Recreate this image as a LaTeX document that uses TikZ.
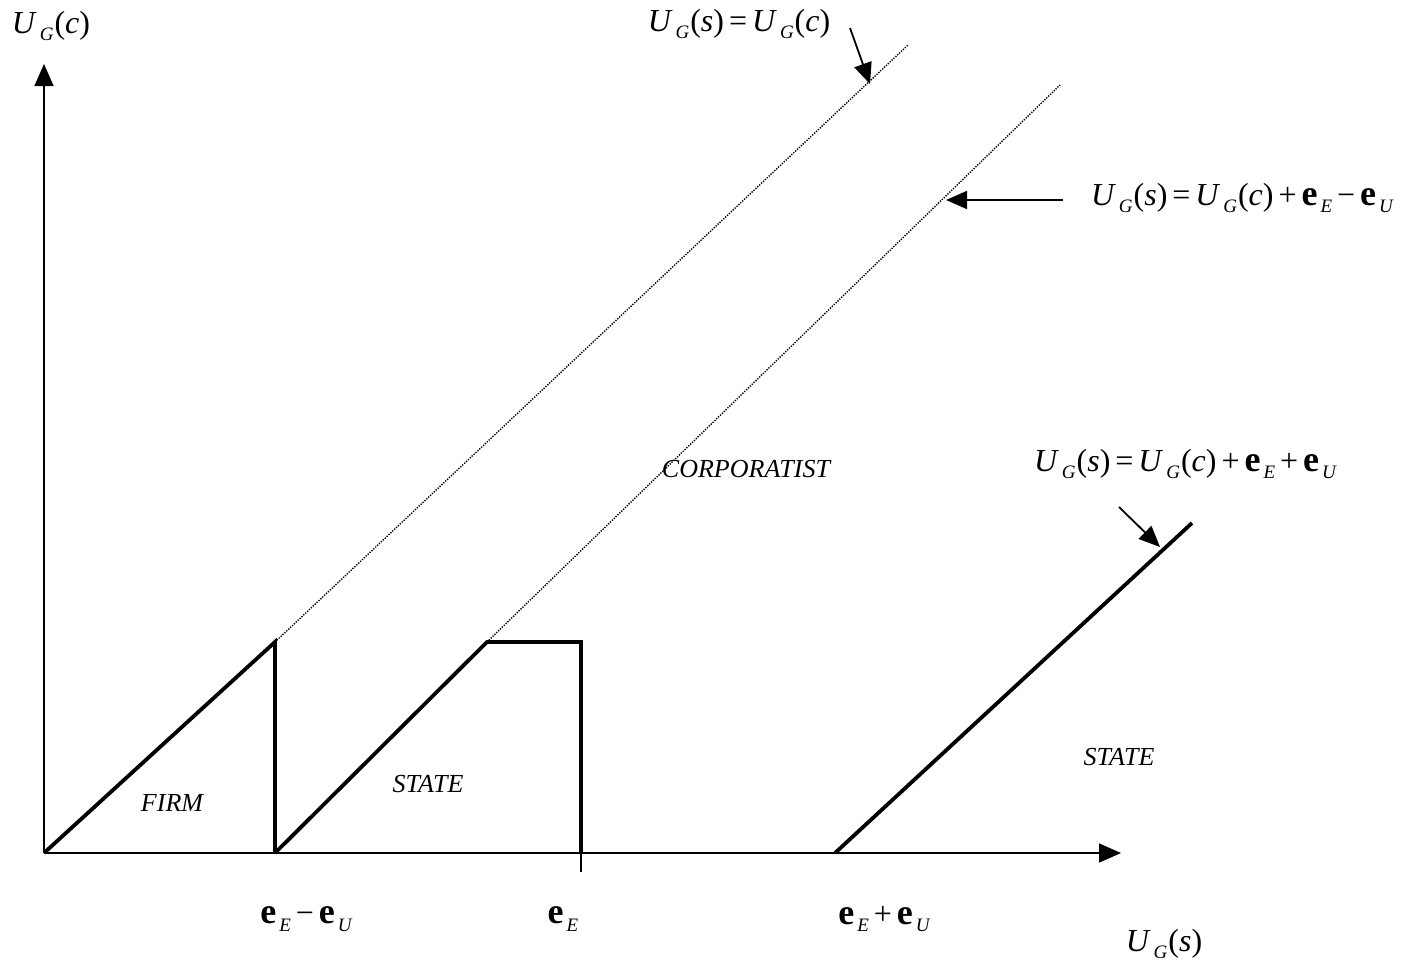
\documentclass[tikz,border=0pt]{standalone}
\usepackage{fontspec}
\setmainfont{Liberation Serif}
\usetikzlibrary{arrows.meta}
\newcommand{\mysub}[1]{\raisebox{-0.5ex}{\fontsize{19}{21}\selectfont\itshape #1}}
\newcommand{\UG}[1]{\textit{U}\hspace{3pt}\mysub{G}\hspace{1pt}(\textit{#1})}
\newcommand{\be}[1]{{\fontsize{36}{40}\selectfont\textbf{e}}\hspace{3pt}\mysub{#1}}
\newcommand{\gapsp}{\hspace{5pt}}
\tikzset{
  axisline/.style={draw=black, line width=1.5pt, -{Triangle[length=22pt,width=19pt]}},
  region/.style={line width=3.8pt, line join=miter, line cap=butt},
  guide/.style={line width=1.4pt, dash pattern=on 1.3pt off 1.3pt},
  pointer/.style={line width=1.8pt, -{Triangle[length=21pt,width=18pt]}},
  biglabel/.style={inner sep=0pt, font=\fontsize{32}{36}\selectfont},
  zonelabel/.style={inner sep=0pt, font=\fontsize{26}{30}\selectfont\itshape},
}
\begin{document}
\begin{tikzpicture}[x=1pt,y=-1pt]
\useasboundingbox (0,0) rectangle (1424,967);
% key points
\coordinate (O) at (44,853);
\coordinate (ytip) at (44,64);
\coordinate (xtip) at (1121,853);
\coordinate (f1) at (275,642);
\coordinate (f0) at (275,853);
\coordinate (s1) at (487,642);
\coordinate (s2) at (581,642);
\coordinate (s3) at (581,853);
\coordinate (s4) at (581,872);
\coordinate (d1) at (908,45);
\coordinate (d2) at (1060,85);
\coordinate (t0) at (835,853);
\coordinate (t1) at (1192,523);
% axes
\draw[axisline] (O) -- (ytip);
\draw[axisline] (O) -- (xtip);
% regions
\draw[region] (O) -- (f1) -- (f0);
\draw[region] (f0) -- (s1) -- (s2) -- (s3);
\draw[line width=1.5pt] (s3) -- (s4);
\draw[region] (t0) -- (t1);
% dotted guides
\draw[guide] (f1) -- (d1);
\draw[guide] (s1) -- (d2);
% labels
\node[biglabel] (ly) at (51,26) {\UG{c}};
\node[biglabel] (lx) at (1164,944) {\UG{s}};
\node[biglabel] (l1) at (739,24) {\UG{s}\gapsp=\gapsp\UG{c}};
\node[biglabel] (l2) at (1242,198) {\UG{s}\gapsp=\gapsp\UG{c}\gapsp+\gapsp\be{E}\gapsp−\gapsp\be{U}};
\node[biglabel] (l3) at (1185,464) {\UG{s}\gapsp=\gapsp\UG{c}\gapsp+\gapsp\be{E}\gapsp+\gapsp\be{U}};
\node[biglabel] (b1) at (306,919) {\be{E}\gapsp−\gapsp\be{U}};
\node[biglabel] (b2) at (563,919) {\be{E}};
\node[biglabel] (b3) at (884,919) {\be{E}\gapsp+\gapsp\be{U}};
\node[zonelabel] (zfirm) at (172,803) {FIRM};
\node[zonelabel] (zstate1) at (428,784) {STATE};
\node[zonelabel] (zcorp) at (746,469) {CORPORATIST};
\node[zonelabel] (zstate2) at (1119,757) {STATE};
% pointers
\coordinate (p1a) at (850,28);
\coordinate (p1b) at (870,84);
\coordinate (p2a) at (1063,200);
\coordinate (p2b) at (946,200);
\coordinate (p3a) at (1119,507);
\coordinate (p3b) at (1160,547);
\draw[pointer] (p1a) -- (p1b);
\draw[pointer] (p2a) -- (p2b);
\draw[pointer] (p3a) -- (p3b);
\end{tikzpicture}
\end{document}
